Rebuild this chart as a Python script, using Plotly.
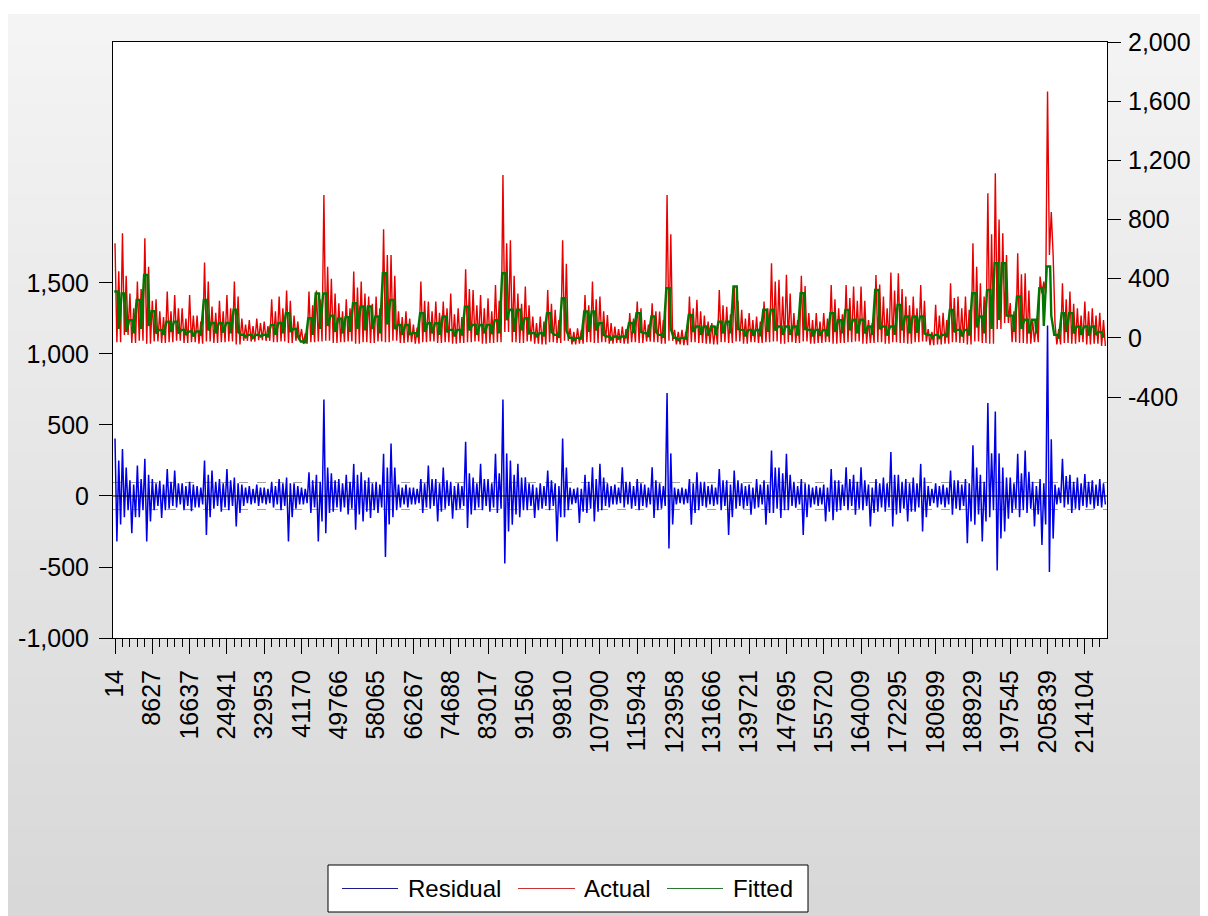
import plotly.graph_objects as go

# Observation labels shown on the category axis (one every 5 plotted blocks)
obs_labels = ["14", "8627", "16637", "24941", "32953", "41170", "49766", "58065",
              "66267", "74688", "83017", "91560", "99810", "107900", "115943",
              "123958", "131666", "139721", "147695", "155720", "164009", "172295",
              "180699", "188929", "197545", "205839", "214104"]

# Per-block extremes and typical level of each series
actual_high = [640, 707, 300, 380, 673, 250, 180, 313, 290, 200,
               290, 150, 509, 212, 250, 290, 380, 130, 120, 130,
               110, 260, 280, 320, 150, 60, 313, 320, 966, 400,
               234, 260, 448, 380, 280, 280, 734, 560, 180, 180,
               90, 380, 245, 245, 245, 300, 200, 464, 324, 290,
               268, 358, 1101, 660, 300, 347, 144, 144, 324, 190,
               660, 65, 65, 290, 380, 280, 155, 77, 77, 167,
               245, 120, 234, 178, 966, 54, 54, 280, 257, 150,
               100, 324, 210, 347, 190, 167, 144, 245, 505, 392,
               426, 167, 419, 167, 167, 167, 358, 200, 358, 347,
               347, 120, 425, 279, 441, 437, 279, 279, 358, 60,
               223, 170, 369, 280, 280, 640, 369, 977, 1113, 707,
               235, 572, 437, 120, 414, 1665, 100, 369, 313, 200,
               245, 200, 170]
actual_mid = [450, 420, 200, 330, 480, 260, 140, 180, 200, 130,
              150, 110, 380, 170, 180, 200, 280, 90, 80, 100,
              80, 180, 200, 250, 110, 30, 220, 260, 480, 300,
              180, 200, 340, 300, 230, 200, 560, 420, 140, 130,
              70, 250, 180, 170, 200, 160, 140, 330, 220, 200,
              180, 250, 640, 420, 230, 220, 100, 110, 230, 120,
              500, 40, 50, 220, 260, 180, 100, 60, 60, 130,
              200, 90, 180, 120, 700, 40, 40, 200, 180, 110,
              80, 220, 160, 250, 130, 120, 110, 200, 380, 280,
              300, 120, 350, 120, 110, 130, 260, 160, 270, 250,
              250, 100, 360, 200, 320, 330, 220, 200, 250, 40,
              150, 120, 270, 200, 190, 480, 280, 700, 800, 560,
              180, 430, 320, 100, 380, 850, 60, 260, 230, 150,
              180, 150, 120]
actual_low = [-30, 20, -35, -20, -40, -25, -35, -30, -20, -35,
              -30, -40, -25, -35, -30, -25, -45, -20, -25, -15,
              -20, -30, -25, -35, -20, -40, -30, -25, -20, -35,
              -30, -25, -40, -30, -35, -25, -30, -20, -35, -30,
              -40, -30, -25, -35, -30, -40, -35, -30, -25, -40,
              -35, -30, 40, -30, -35, -25, -40, -45, -30, -35,
              -20, -45, -40, -30, -35, -30, -40, -35, -40, -30,
              -35, -25, -30, -40, -20, -45, -50, -30, -35, -40,
              -45, -30, -35, -25, -40, -30, -35, -30, -25, -40,
              -30, -35, -25, -40, -35, -30, -40, -35, -30, -25,
              -40, -35, -30, -40, -30, -35, -40, -30, -25, -50,
              -45, -40, -30, -35, -45, -25, -35, -40, 60, 100,
              -30, -35, -40, -30, 300, 560, -45, -35, -40, -30,
              -45, -40, -55]
fitted_high = [313, 300, 120, 257, 425, 180, 54, 110, 110, 54,
               43, 43, 257, 100, 100, 100, 190, 20, 20, 20,
               20, 88, 100, 167, 60, -25, 133, 300, 300, 150,
               130, 140, 234, 212, 212, 144, 437, 257, 88, 88,
               32, 167, 99, 99, 144, 54, 54, 212, 88, 88,
               88, 120, 437, 190, 190, 133, 32, 32, 167, 20,
               268, 0, 0, 178, 178, 99, 9, 9, 9, 100,
               167, 32, 144, 20, 336, 0, 0, 155, 77, 77,
               77, 110, 110, 347, 54, 54, 54, 190, 190, 77,
               77, 77, 302, 54, 54, 54, 167, 120, 189, 122,
               122, 77, 324, 77, 77, 223, 144, 144, 144, 20,
               20, 20, 189, 54, 54, 302, 144, 324, 504, 504,
               150, 280, 122, 122, 336, 482, 20, 167, 167, 77,
               77, 77, 40]
fitted_low = [60, 40, 30, 60, 80, 30, 20, 40, 30, 20,
              10, 15, 50, 30, 35, 30, 40, 5, 0, 10,
              5, 20, 30, 40, 10, -35, 20, 60, 80, 40,
              30, 40, 60, 50, 60, 30, 90, 60, 20, 25,
              5, 40, 30, 20, 40, 10, 15, 50, 20, 30,
              25, 30, 120, 40, 50, 30, 5, 10, 40, 0,
              50, -15, -10, 40, 50, 20, -10, -5, 0, 30,
              40, 5, 40, 0, 60, -15, -10, 40, 20, 15,
              20, 30, 30, 60, 10, 15, 10, 40, 50, 20,
              20, 15, 60, 10, 15, 10, 40, 30, 50, 30,
              30, 20, 60, 15, 20, 50, 30, 35, 30, 0,
              0, 5, 40, 10, 15, 70, 30, 60, 120, 150,
              40, 60, 30, 30, 80, 150, -5, 40, 30, 20,
              15, 20, 0]
resid_high = [405, 330, 110, 214, 262, 120, 107, 190, 179, 90,
              100, 70, 250, 180, 120, 190, 130, 80, 70, 80,
              60, 100, 120, 130, 90, 60, 167, 150, 679, 160,
              120, 150, 226, 167, 130, 100, 298, 369, 80, 80,
              60, 120, 214, 120, 200, 100, 90, 381, 130, 226,
              120, 298, 679, 250, 226, 131, 80, 90, 179, 90,
              405, 60, 60, 150, 202, 226, 90, 80, 202, 100,
              120, 80, 202, 90, 726, 60, 60, 120, 167, 100,
              80, 190, 110, 179, 90, 80, 120, 110, 321, 200,
              298, 100, 120, 80, 70, 80, 190, 110, 202, 150,
              202, 80, 120, 130, 310, 150, 120, 130, 226, 70,
              90, 80, 180, 110, 120, 357, 150, 655, 595, 200,
              130, 298, 321, 100, 120, 1200, 80, 262, 150, 130,
              155, 110, 120]
resid_low = [-321, -150, -262, -150, -321, -100, -155, -90, -80, -100,
             -107, -80, -274, -90, -110, -100, -214, -70, -60, -70,
             -60, -80, -100, -321, -90, -60, -120, -321, -262, -110,
             -110, -130, -238, -179, -155, -120, -429, -150, -80, -80,
             -60, -119, -90, -179, -90, -160, -90, -226, -100, -100,
             -110, -120, -476, -202, -150, -100, -155, -90, -100, -321,
             -150, -60, -190, -120, -179, -100, -80, -60, -80, -90,
             -100, -80, -155, -90, -369, -60, -60, -202, -100, -80,
             -70, -100, -274, -90, -90, -131, -80, -202, -120, -155,
             -100, -83, -274, -80, -70, -179, -170, -100, -100, -131,
             -100, -214, -110, -110, -214, -120, -180, -110, -250, -70,
             -80, -80, -131, -100, -333, -202, -321, -150, -524, -250,
             -120, -150, -120, -214, -345, -536, -60, -80, -120, -100,
             -80, -90, -80]
resid_mid_high = [250, 200, 80, 120, 150, 90, 80, 100, 90, 70,
                  80, 60, 150, 100, 90, 110, 90, 60, 50, 60,
                  50, 70, 90, 90, 70, 50, 110, 100, 200, 110,
                  90, 100, 150, 110, 90, 80, 200, 200, 60, 60,
                  50, 90, 120, 90, 110, 70, 70, 160, 90, 120,
                  90, 160, 300, 150, 130, 90, 60, 70, 110, 70,
                  200, 50, 50, 100, 120, 130, 70, 60, 100, 70,
                  90, 60, 110, 70, 300, 50, 50, 90, 100, 70,
                  60, 110, 80, 110, 70, 60, 80, 80, 200, 160,
                  150, 70, 90, 60, 60, 60, 110, 80, 120, 100,
                  110, 60, 90, 90, 150, 100, 90, 90, 130, 50,
                  70, 60, 110, 80, 90, 200, 100, 300, 300, 130,
                  90, 160, 170, 70, 90, 400, 60, 140, 100, 90,
                  100, 80, 90]
resid_mid_low = [-200, -100, -150, -100, -180, -70, -100, -70, -60, -70,
                 -80, -60, -150, -70, -80, -70, -120, -50, -50, -50,
                 -50, -60, -70, -150, -60, -50, -80, -180, -120, -80,
                 -80, -90, -130, -110, -100, -80, -200, -100, -60, -60,
                 -50, -80, -70, -110, -70, -100, -70, -130, -80, -70,
                 -80, -90, -250, -130, -100, -70, -100, -70, -70, -150,
                 -100, -50, -110, -90, -110, -70, -60, -50, -60, -70,
                 -70, -60, -100, -70, -200, -50, -50, -120, -70, -60,
                 -60, -70, -150, -70, -70, -90, -60, -120, -90, -100,
                 -70, -60, -150, -60, -60, -110, -110, -70, -70, -90,
                 -70, -120, -80, -80, -130, -90, -110, -80, -150, -50,
                 -60, -60, -90, -70, -180, -130, -180, -100, -300, -160,
                 -90, -100, -90, -130, -200, -300, -50, -60, -90, -70,
                 -60, -70, -60]


def spikes(high, low, mid_high, mid_low):
    """Four turning points per block: peak, trough, secondary peak, trough."""
    xs, ys = [], []
    for i, (h, l, mh, ml) in enumerate(zip(high, low, mid_high, mid_low)):
        xs += [i, i + 0.25, i + 0.5, i + 0.75]
        ys += [h, l, mh, ml]
    return xs, ys


def steps(high, low):
    xs, ys = [], []
    for i, (h, l) in enumerate(zip(high, low)):
        xs += [i - 0.1, i + 0.35, i + 0.5]
        ys += [h, h, l]
    return xs, ys


FONT = "Liberation Sans, Arial, sans-serif"
BLUE, RED, GREEN = "#0000e6", "#e60000", "#007800"

rx, ry = spikes(resid_high, resid_low, resid_mid_high, resid_mid_low)
ax_, ay_ = spikes(actual_high, actual_low, actual_mid, actual_low)
fx, fy = steps(fitted_high, fitted_low)

fig = go.Figure()
fig.add_trace(go.Scatter(x=rx, y=ry, mode="lines", name="Residual",
                         line=dict(color=BLUE, width=1.5), yaxis="y"))
fig.add_trace(go.Scatter(x=ax_, y=ay_, mode="lines", name="Actual",
                         line=dict(color=RED, width=1.4), yaxis="y2"))
fig.add_trace(go.Scatter(x=fx, y=fy, mode="lines", name="Fitted",
                         line=dict(color=GREEN, width=2.4), yaxis="y2"))

# page geometry (pixels) for paper-space decorations
W, H = 1208, 916
L, R, T, B = 113, 101, 42, 278
pw, ph = W - L - R, H - T - B


def px_x(p):
    return (p - L) / pw


def px_y(p):
    return (H - B - p) / ph


shapes = []
# grey panel with a soft vertical gradient
n_band = 60
top_c, bot_c = 244, 216
for i in range(n_band):
    y0 = 14 + i * (H - 14) / n_band
    y1 = 14 + (i + 1) * (H - 14) / n_band + 1
    c = round(top_c + (bot_c - top_c) * i / (n_band - 1))
    shapes.append(dict(type="rect", xref="paper", yref="paper",
                       x0=px_x(8), x1=px_x(1200), y0=px_y(y1), y1=px_y(y0),
                       fillcolor=f"rgb({c},{c},{c})", line=dict(width=0),
                       layer="below"))
# white plotting area
shapes.append(dict(type="rect", xref="paper", yref="paper", x0=0, x1=1, y0=0, y1=1,
                   fillcolor="white", line=dict(width=0), layer="below"))
# +/- one standard error bands for the residual
for v in (95, -95):
    shapes.append(dict(type="line", xref="paper", yref="y", x0=0, x1=1, y0=v, y1=v,
                       line=dict(color="#a0a0a0", width=1, dash="dash"), layer="below"))
# residual zero line
shapes.append(dict(type="line", xref="paper", yref="y", x0=0, x1=1, y0=0, y1=0,
                   line=dict(color="black", width=1), layer="above"))

# legend box drawn below the chart
annotations = []
shapes.append(dict(type="rect", xref="paper", yref="paper",
                   x0=px_x(328), x1=px_x(808), y0=px_y(912), y1=px_y(865),
                   fillcolor="white", line=dict(color="black", width=1), layer="above"))
legend_items = [("Residual", "#1a1a8c", 342, 398, 406),
                ("Actual", "#c83232", 518, 575, 582),
                ("Fitted", "#2a7a2a", 667, 723, 731)]
for name, col, lx0, lx1, tx in legend_items:
    shapes.append(dict(type="line", xref="paper", yref="paper",
                       x0=px_x(lx0), x1=px_x(lx1), y0=px_y(888.5), y1=px_y(888.5),
                       line=dict(color=col, width=1.2), layer="above"))
    annotations.append(dict(xref="paper", yref="paper", x=px_x(tx), y=px_y(888.5),
                            xanchor="left", yanchor="middle", text=name,
                            showarrow=False,
                            font=dict(family=FONT, size=24, color="black")))

major = list(range(0, 5 * len(obs_labels), 5))
minor = [i for i in range(0, 134) if i % 5]

fig.update_layout(
    width=W, height=H,
    margin=dict(l=L, r=R, t=T, b=B, pad=0),
    paper_bgcolor="white", plot_bgcolor="white",
    font=dict(family=FONT, color="black", size=25),
    shapes=shapes,
    annotations=annotations,
    showlegend=False,
    xaxis=dict(range=[-0.27, 132.97], showgrid=False, zeroline=False,
               showline=True, linecolor="black", linewidth=1, mirror=True,
               tickmode="array", tickvals=major, ticktext=obs_labels,
               tickangle=-90, ticks="outside", ticklen=15, tickcolor="black",
               ticklabelstandoff=6,
               tickfont=dict(family=FONT, size=25),
               minor=dict(tickmode="array", tickvals=minor, ticks="outside",
                          ticklen=8, tickcolor="black", showgrid=False)),
    yaxis=dict(range=[-1000, 3197], showgrid=False, zeroline=False,
               showline=True, linecolor="black", linewidth=1, mirror=True,
               tickmode="array", tickvals=[-1000, -500, 0, 500, 1000, 1500],
               ticktext=["-1,000", "-500", "0", "500", "1,000", "1,500"],
               ticks="outside", ticklen=13, tickcolor="black",
               ticklabelstandoff=5,
               tickfont=dict(family=FONT, size=25)),
    yaxis2=dict(range=[-2029, 2000], overlaying="y", side="right",
                showgrid=False, zeroline=False,
                showline=True, linecolor="black", linewidth=1,
                tickmode="array", tickvals=[-400, 0, 400, 800, 1200, 1600, 2000],
                ticktext=["-400", "0", "400", "800", "1,200", "1,600", "2,000"],
                ticks="outside", ticklen=13, tickcolor="black",
                ticklabelstandoff=2,
                tickfont=dict(family=FONT, size=25)),
)

fig.write_html("out.html")
